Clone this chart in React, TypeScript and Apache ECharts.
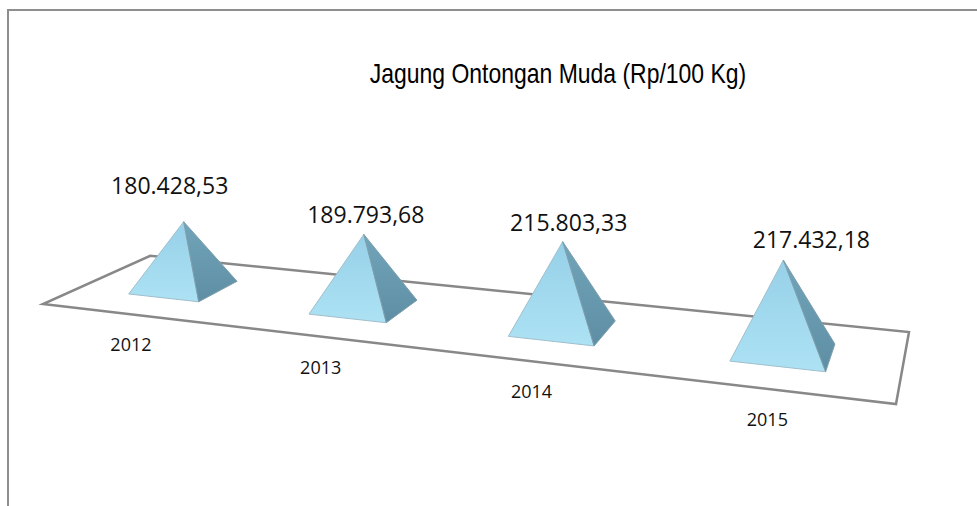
import React, { useEffect, useRef } from 'react';
import * as echarts from 'echarts';

// ---- data ----
const years = ['2012', '2013', '2014', '2015'];
const prices = [180428.53, 189793.68, 215803.33, 217432.18];
const chartTitle = 'Jagung Ontongan Muda (Rp/100 Kg)';
const valueMin = 0;
const valueMax = 250000;

// ---- layout (perspective floor corners: front-left, front-right, back-right, back-left) ----
const FLOOR: number[][] = [[43, 304], [896, 404], [909, 332], [150.2, 255.8]];
const LABEL_NUDGE: number[][] = [[-14, -17], [2, 0], [6, 0], [28, -1]];

function squareToQuad(q: number[][]) {
  const [x0, y0] = q[0], [x1, y1] = q[1], [x2, y2] = q[2], [x3, y3] = q[3];
  const dx1 = x1 - x2, dx2 = x3 - x2, dx3 = x0 - x1 + x2 - x3;
  const dy1 = y1 - y2, dy2 = y3 - y2, dy3 = y0 - y1 + y2 - y3;
  const den = dx1 * dy2 - dx2 * dy1;
  const g = (dx3 * dy2 - dx2 * dy3) / den;
  const h = (dx1 * dy3 - dx3 * dy1) / den;
  return { a: x1 - x0 + g * x1, b: x3 - x0 + h * x3, c: x0, d: y1 - y0 + g * y1, e: y3 - y0 + h * y3, f: y0, g, h };
}
const H = squareToQuad(FLOOR);
function project(u: number, v: number, lift = 0): number[] {
  const D = H.g * u + H.h * v + 1;
  return [(H.a * u + H.b * v + H.c) / D, (H.d * u + H.e * v + H.f - lift) / D];
}

function fmtId(v: number): string {
  const [i, d] = v.toFixed(2).split('.');
  return i.replace(/\B(?=(\d{3})+(?!\d))/g, '.') + ',' + d;
}

const FONT = "'Open Sans', 'Noto Sans', sans-serif";

export default function App() {
  const ref = useRef<HTMLDivElement>(null);
  useEffect(() => {
    if (!ref.current) return;
    const chart = echarts.init(ref.current, null, { renderer: 'svg' });
    const frontFill = new echarts.graphic.LinearGradient(0, 0, 0, 1, [
      { offset: 0, color: '#96d0e8' },
      { offset: 1, color: '#ade2f4' },
    ]);
    const sideFill = new echarts.graphic.LinearGradient(0, 0, 0, 1, [
      { offset: 0, color: '#72a5ba' },
      { offset: 1, color: '#5e8ea3' },
    ]);
    chart.setOption({
      animation: false,
      backgroundColor: '#ffffff',
      graphic: [
        {
          type: 'rect',
          shape: { x: 8, y: 10, width: 1000, height: 600 },
          style: { fill: 'none', stroke: '#8e8e8e', lineWidth: 2 },
          silent: true,
          z: 0,
        },
        {
          type: 'text',
          x: 558,
          y: 73,
          scaleX: 0.82,
          z: 10,
          style: {
            text: chartTitle,
            textAlign: 'center',
            textVerticalAlign: 'middle',
            fontFamily: "'Liberation Sans', Arial, sans-serif",
            fontSize: 28,
            fontWeight: 'normal',
            fill: '#000000',
          },
        },
      ],
      grid: { left: 100, right: 100, top: 300, height: 94.75 },
      xAxis: { type: 'category', data: years, show: false },
      yAxis: { type: 'value', min: valueMin, max: valueMax, show: false },
      series: [
        {
          type: 'custom',
          clip: false,
          z: 1,
          data: [[0, valueMin]],
          renderItem: () => {
            const pts = [project(0, 0), project(1, 0), project(1, 1), project(0, 1)];
            return {
              type: 'polygon',
              shape: { points: pts },
              style: { fill: '#ffffff', stroke: '#888888', lineWidth: 2.5, lineJoin: 'miter' },
            };
          },
        },
        {
          type: 'custom',
          clip: false,
          z: 2,
          data: years.map((_, i) => [i, prices[i]]),
          encode: { x: 0, y: 1 },
          renderItem: (params: any, api: any) => {
            const cs = params.coordSys;
            const idx = params.dataIndex;
            const i = api.value(0);
            const val = api.value(1);
            const base = api.coord([i, valueMin]);
            const top = api.coord([i, val]);
            const band = api.size([1, 0])[0];
            const u = (base[0] - cs.x) / cs.width;
            const du = (band * 0.2) / cs.width;
            const lift = base[1] - top[1];
            const vm = 0.5, dv = 0.2;
            const L = project(u - du, vm - dv);
            const F = project(u + du, vm - dv);
            const R = project(u + du, vm + dv);
            const A = project(u, vm, lift);
            const floorFront = project(u, 0);
            const nudge = LABEL_NUDGE[idx] || [0, 0];
            return {
              type: 'group',
              children: [
                {
                  type: 'polygon',
                  shape: { points: [A, L, F] },
                  style: { fill: frontFill, stroke: '#9fbfcc', lineWidth: 1 },
                },
                {
                  type: 'polygon',
                  shape: { points: [A, F, R] },
                  style: { fill: sideFill, stroke: '#7d9fae', lineWidth: 1 },
                },
                {
                  type: 'text',
                  x: A[0] + nudge[0],
                  y: A[1] - 20 + nudge[1],
                  style: {
                    text: fmtId(val),
                    textAlign: 'center',
                    textVerticalAlign: 'middle',
                    fontFamily: FONT,
                    fontSize: 23,
                    fill: '#111111',
                  },
                },
                {
                  type: 'text',
                  x: floorFront[0],
                  y: floorFront[1] + 30,
                  style: {
                    text: years[idx],
                    textAlign: 'center',
                    textVerticalAlign: 'middle',
                    fontFamily: FONT,
                    fontSize: 18,
                    fill: '#111111',
                  },
                },
              ],
            };
          },
        },
      ],
    });
    return () => chart.dispose();
  }, []);
  return (
    <div
      ref={ref}
      style={{ position: 'absolute', left: 0, top: 0, width: 977, height: 506 }}
    />
  );
}
